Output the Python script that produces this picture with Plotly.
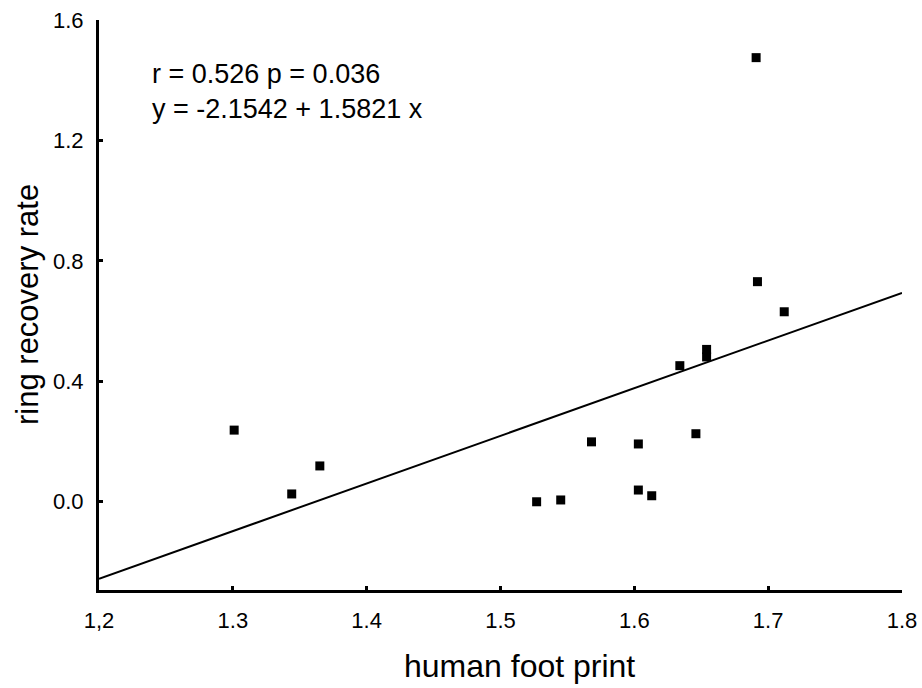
import plotly.graph_objects as go

# Data
foot_print = [1.301, 1.344, 1.365, 1.527, 1.545, 1.568, 1.603, 1.603, 1.613,
              1.634, 1.646, 1.654, 1.654, 1.691, 1.692, 1.712]
recovery = [0.238, 0.026, 0.119, 0.000, 0.006, 0.199, 0.192, 0.039, 0.020,
            0.452, 0.226, 0.506, 0.481, 1.475, 0.731, 0.631]

INTERCEPT = -2.1542
SLOPE = 1.5821
fit_x = [1.2, 1.8]
fit_y = [INTERCEPT + SLOPE * v for v in fit_x]

x_tickvals = [1.2, 1.3, 1.4, 1.5, 1.6, 1.7, 1.8]
x_ticktext = ["1,2", "1.3", "1.4", "1.5", "1.6", "1.7", "1.8"]
y_tickvals = [0.0, 0.4, 0.8, 1.2, 1.6]
y_ticktext = ["0.0", "0.4", "0.8", "1.2", "1.6"]

FONT = "Arial, Liberation Sans, sans-serif"

fig = go.Figure()
fig.add_trace(go.Scatter(x=fit_x, y=fit_y, mode="lines",
                         line=dict(color="black", width=2), showlegend=False,
                         hoverinfo="skip"))
fig.add_trace(go.Scatter(x=foot_print, y=recovery, mode="markers",
                         marker=dict(symbol="square", size=9, color="black"),
                         showlegend=False))

fig.update_layout(
    width=922, height=688,
    margin=dict(l=99, r=20, t=20, b=98),
    plot_bgcolor="white", paper_bgcolor="white",
    font=dict(family=FONT, color="black"),
    xaxis=dict(range=[1.2, 1.8], tickvals=x_tickvals, ticktext=x_ticktext,
               automargin=False,
               showgrid=False, zeroline=False, showline=True, linecolor="black",
               linewidth=3, ticks="inside", ticklen=4, tickwidth=3,
               tickcolor="black", tickfont=dict(size=22, family=FONT),
               ticklabelstandoff=9),
    yaxis=dict(range=[-0.293, 1.6], tickvals=y_tickvals, ticktext=y_ticktext,
               automargin=False,
               showgrid=False, zeroline=False, showline=True, linecolor="black",
               linewidth=3, ticks="inside", ticklen=4, tickwidth=3,
               tickcolor="black", tickfont=dict(size=22, family=FONT),
               ticklabelstandoff=8),
    annotations=[
        dict(text="r = 0.526 p = 0.036<br>y = -2.1542 + 1.5821 x",
             xref="paper", yref="paper", x=0.064, y=0.935,
             xanchor="left", yanchor="top", align="left", showarrow=False,
             font=dict(size=27, family=FONT, color="black")),
        dict(text="human foot print", xref="paper", yref="paper",
             x=0.524, y=(590 - 666) / 570, xanchor="center", yanchor="middle",
             showarrow=False, font=dict(size=32, family=FONT, color="black")),
        dict(text="ring recovery rate", xref="paper", yref="paper",
             x=(27 - 99) / 803, y=0.5, xanchor="center", yanchor="middle",
             textangle=-90, showarrow=False,
             font=dict(size=31, family=FONT, color="black")),
    ],
)

fig.write_html("out.html")
